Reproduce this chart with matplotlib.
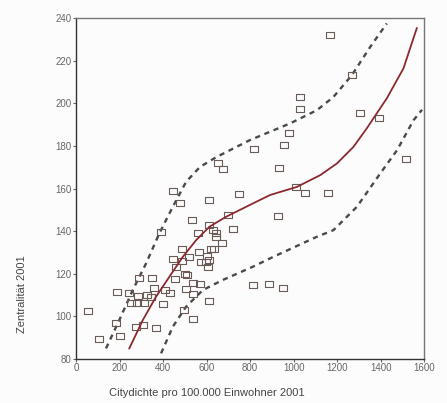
import matplotlib
matplotlib.use("Agg")
import matplotlib.pyplot as plt
from matplotlib.path import Path

# ---------------------------------------------------------------------------
# Data
# ---------------------------------------------------------------------------
# Scatter: Citydichte (x) vs. Zentralitaet (y)
city_x = [445, 480, 613, 751, 533, 697, 720, 391, 560, 613, 628, 644, 644, 671,
          487, 448, 487, 521, 564, 575, 621, 636, 601, 598, 613, 606, 460, 455,
          501, 509, 506, 537, 570, 537, 291, 350, 187, 245, 284, 327, 345, 360,
          411, 434, 253, 281, 314, 402, 613, 54, 184, 276, 307, 368, 494, 537,
          204, 107, 812, 889, 950, 1010, 1053, 1156, 926,
          1165, 1268, 1030, 1030, 1306, 1390, 981, 956, 820, 654, 675, 935, 1517]
zentral_y = [158.8, 153.1, 154.6, 157.7, 145.5, 147.6, 141.0, 139.8, 139.3, 142.9,
             140.5, 139.0, 137.4, 134.6, 131.6, 126.9, 126.2, 127.7, 130.4, 125.7,
             131.6, 131.6, 128.3, 125.7, 126.5, 123.0, 123.0, 117.4, 119.9, 119.3,
             112.7, 115.8, 115.2, 110.4, 117.9, 117.9, 111.6, 110.8, 109.7, 110.0,
             109.3, 113.2, 112.4, 111.1, 106.1, 106.1, 106.1, 105.7, 107.2, 102.7,
             96.7, 95.2, 96.0, 94.4, 103.0, 98.8, 91.0, 89.2, 114.6, 115.0,
             113.4, 160.6, 158.0, 158.0, 147.1,
             232.0, 213.3, 202.8, 197.3, 195.3, 192.9, 185.9, 180.4, 178.4, 172.1,
             169.0, 169.5, 173.8]

# fitted curve (solid)
fit_x = [245, 307, 368, 429, 491, 552, 613, 690, 828, 892, 1015, 1122, 1199,
         1275, 1337, 1429, 1505, 1566]
fit_y = [85.0, 98.3, 109.3, 118.6, 128.0, 135.8, 142.1, 146.8, 153.8, 157.0,
         160.8, 166.3, 171.8, 179.6, 188.4, 202.5, 216.5, 235.3]

# upper and lower dashed bands
upper_x = [138, 199, 261, 322, 383, 445, 506, 570, 647, 800, 984, 1107, 1183,
           1268, 1352, 1428]
upper_y = [85.0, 98.3, 112.4, 124.9, 139.0, 151.5, 163.2, 170.2, 174.9, 182.8,
           190.6, 196.8, 203.0, 213.3, 226.5, 237.5]
lower_x = [391, 445, 506, 583, 674, 812, 907, 1107, 1183, 1291, 1398, 1475,
           1551, 1590]
lower_y = [82.7, 95.2, 104.6, 112.4, 117.1, 123.3, 128.0, 137.4, 140.5, 151.5,
           167.1, 178.0, 192.1, 197.0]

x_ticks = [0, 200, 400, 600, 800, 1000, 1200, 1400, 1600]
y_ticks = [80, 100, 120, 140, 160, 180, 200, 220, 240]

# ---------------------------------------------------------------------------
plt.rcParams['font.family'] = ['Liberation Sans Narrow', 'Liberation Sans', 'DejaVu Sans']

fig = plt.figure(figsize=(4.47, 4.03), dpi=100, facecolor='#fcfcfc')
ax = fig.add_axes([0.170, 0.109, 0.779, 0.846])
ax.set_facecolor('#fcfcfc')

# wide open rectangle marker
rect = Path([(-1, -0.75), (1, -0.75), (1, 0.75), (-1, 0.75), (-1, -0.75)],
            [Path.MOVETO, Path.LINETO, Path.LINETO, Path.LINETO, Path.CLOSEPOLY])

ax.plot(upper_x, upper_y, color='#4a4a4a', lw=1.7, ls=(0, (2.2, 2.0)), zorder=2)
ax.plot(lower_x, lower_y, color='#4a4a4a', lw=1.7, ls=(0, (2.2, 2.0)), zorder=2)
ax.plot(city_x, zentral_y, ls='none', marker=rect, markersize=5.5,
        markerfacecolor='none', markeredgecolor='#6a5a58', markeredgewidth=0.8,
        zorder=3)
ax.plot(fit_x, fit_y, color='#8b2a2e', lw=1.3, zorder=4)

ax.set_xlim(0, 1600)
ax.set_ylim(80, 240)
ax.set_xticks(x_ticks)
ax.set_yticks(y_ticks)
ax.tick_params(axis='both', labelsize=7, colors='#666666', length=2, width=0.8,
               pad=1)

for side in ['left', 'bottom']:
    ax.spines[side].set_color('#333333')
    ax.spines[side].set_linewidth(1.0)
for side in ['top', 'right']:
    ax.spines[side].set_color('#777777')
    ax.spines[side].set_linewidth(1.0)

ax.set_xlabel('Citydichte pro 100.000 Einwohner 2001', fontsize=8, color='#444444')
ax.set_ylabel('Zentralität 2001', fontsize=8, color='#444444')
ax.xaxis.set_label_coords(0.376, -0.085)
ax.yaxis.set_label_coords(-0.140, 0.19)

plt.savefig('out.png', dpi=100, facecolor=fig.get_facecolor())
